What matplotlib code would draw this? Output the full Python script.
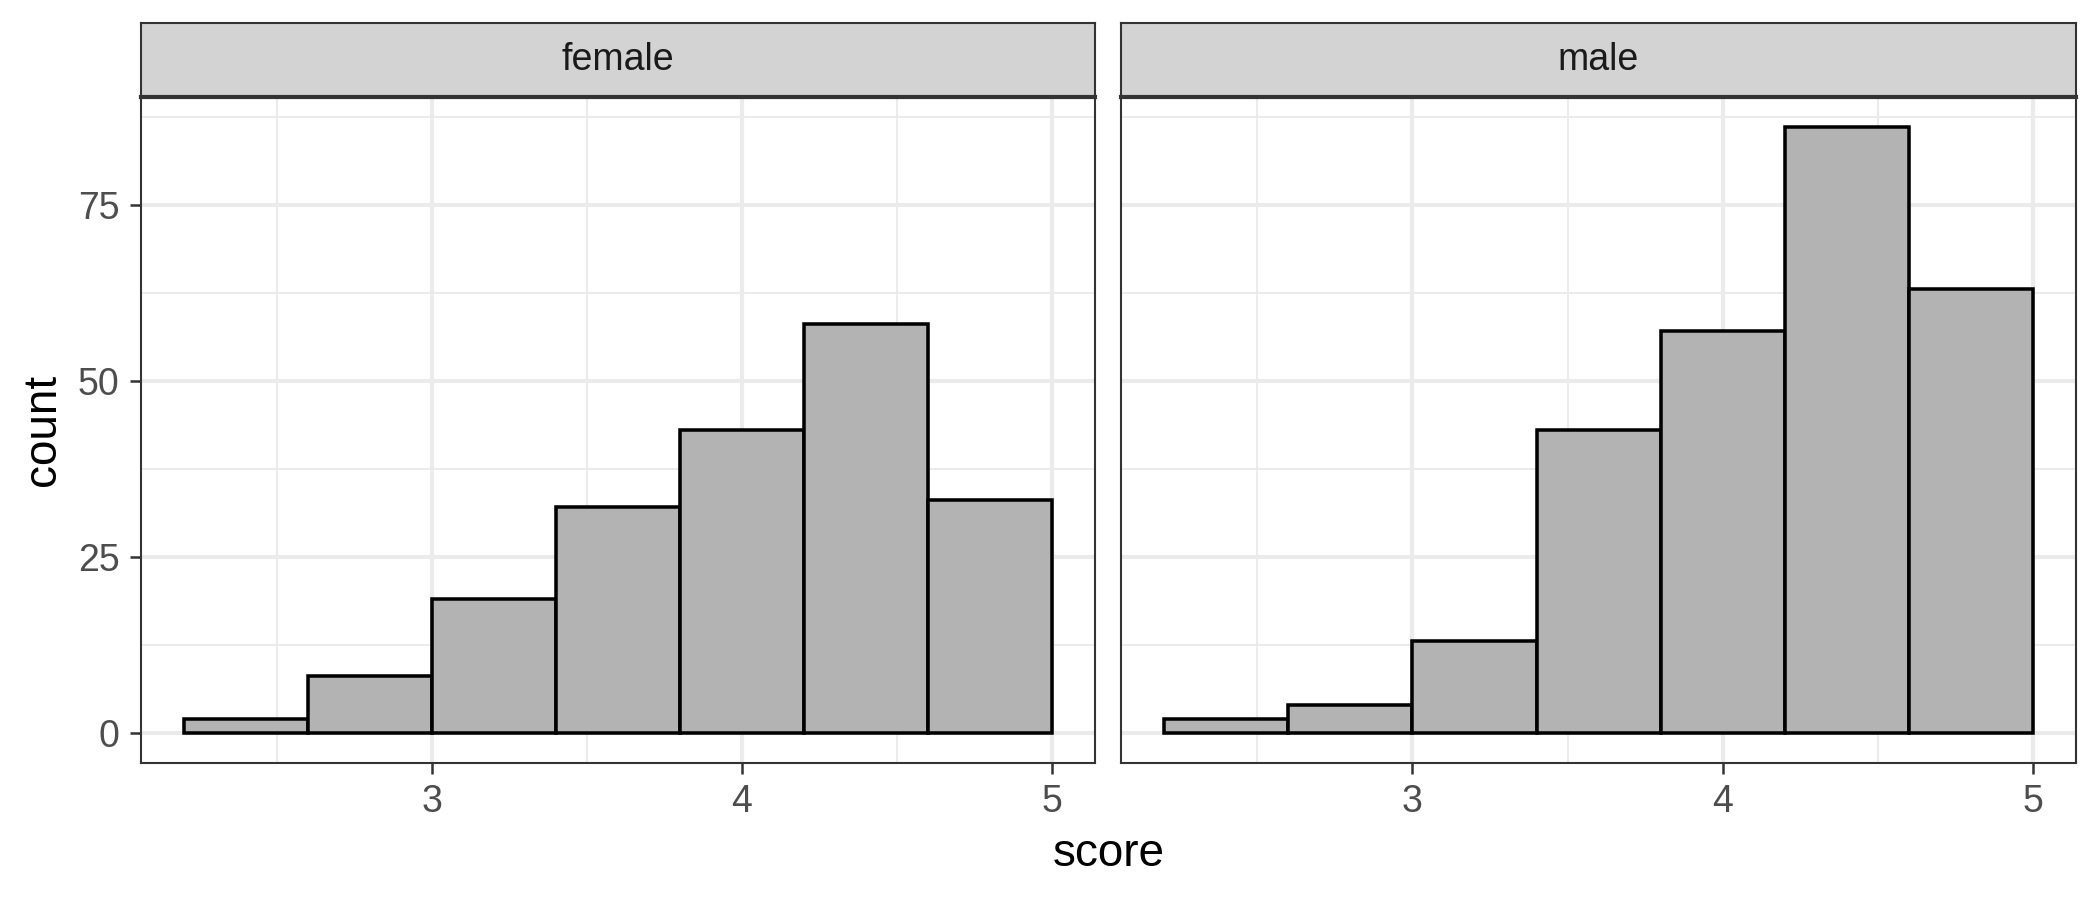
import matplotlib
matplotlib.use("Agg")
import matplotlib.pyplot as plt
import numpy as np

plt.rcParams['font.family'] = ['Liberation Sans', 'DejaVu Sans']

# histogram bins (width 0.4) and counts per facet
bin_left = [2.2, 2.6, 3.0, 3.4, 3.8, 4.2, 4.6]
bin_width = 0.4
facets = ['female', 'male']
counts_female = [2, 8, 19, 32, 43, 58, 33]
counts_male = [2, 4, 13, 43, 57, 86, 63]
counts = {'female': counts_female, 'male': counts_male}

x_ticks = [3, 4, 5]
x_minor = [2.5, 3.5, 4.5]
y_ticks = [0, 25, 50, 75]
y_minor = [12.5, 37.5, 62.5, 87.5]

fig = plt.figure(figsize=(7, 3), dpi=300)

grid_col = '#EBEBEB'
border_col = '#333333'

panel_x = [(0.0671, 0.5214), (0.5338, 0.9886)]
panel_bottom, panel_top = 0.1522, 0.8922
strip_top = 0.9744

xlim = (2.2 - 0.14, 5.0 + 0.14)
ymax = max(max(counts_female), max(counts_male))
ylim = (-0.05 * ymax, 1.05 * ymax)

for i, (name, (x0, x1)) in enumerate(zip(facets, panel_x)):
    ax = fig.add_axes([x0, panel_bottom, x1 - x0, panel_top - panel_bottom])
    ax.set_xlim(*xlim)
    ax.set_ylim(*ylim)
    ax.set_xticks(x_ticks)
    ax.set_xticks(x_minor, minor=True)
    ax.set_yticks(y_ticks)
    ax.set_yticks(y_minor, minor=True)
    ax.grid(which='major', color=grid_col, linewidth=1.0)
    ax.grid(which='minor', color=grid_col, linewidth=0.5)
    ax.set_axisbelow(True)
    ax.bar(bin_left, counts[name], width=bin_width, align='edge',
           color='#B3B3B3', edgecolor='black', linewidth=0.85, zorder=3)
    for s in ax.spines.values():
        s.set_color(border_col)
        s.set_linewidth(0.5)
    ax.tick_params(which='major', length=2.6, width=0.6, color=border_col,
                   labelsize=9, labelcolor='#4D4D4D', pad=2.5)
    ax.tick_params(which='minor', length=0)
    if i > 0:
        ax.tick_params(axis='y', which='both', left=False, labelleft=False)

    sax = fig.add_axes([x0, panel_top, x1 - x0, strip_top - panel_top])
    sax.set_facecolor('#D3D3D3')
    sax.set_xticks([])
    sax.set_yticks([])
    for s in sax.spines.values():
        s.set_color(border_col)
        s.set_linewidth(0.5)
    sax.spines['bottom'].set_linewidth(1.0)
    sax.text(0.5, 0.5, name, transform=sax.transAxes, ha='center', va='center',
             fontsize=9, color='#1A1A1A')

fig.text(0.0205, 0.5 * (panel_bottom + panel_top), 'count', rotation=90,
         ha='center', va='center', fontsize=11)
fig.text(0.5 * (panel_x[0][0] + panel_x[1][1]), 0.051, 'score', ha='center',
         va='center', fontsize=11)

fig.savefig('out.png', dpi=300)
